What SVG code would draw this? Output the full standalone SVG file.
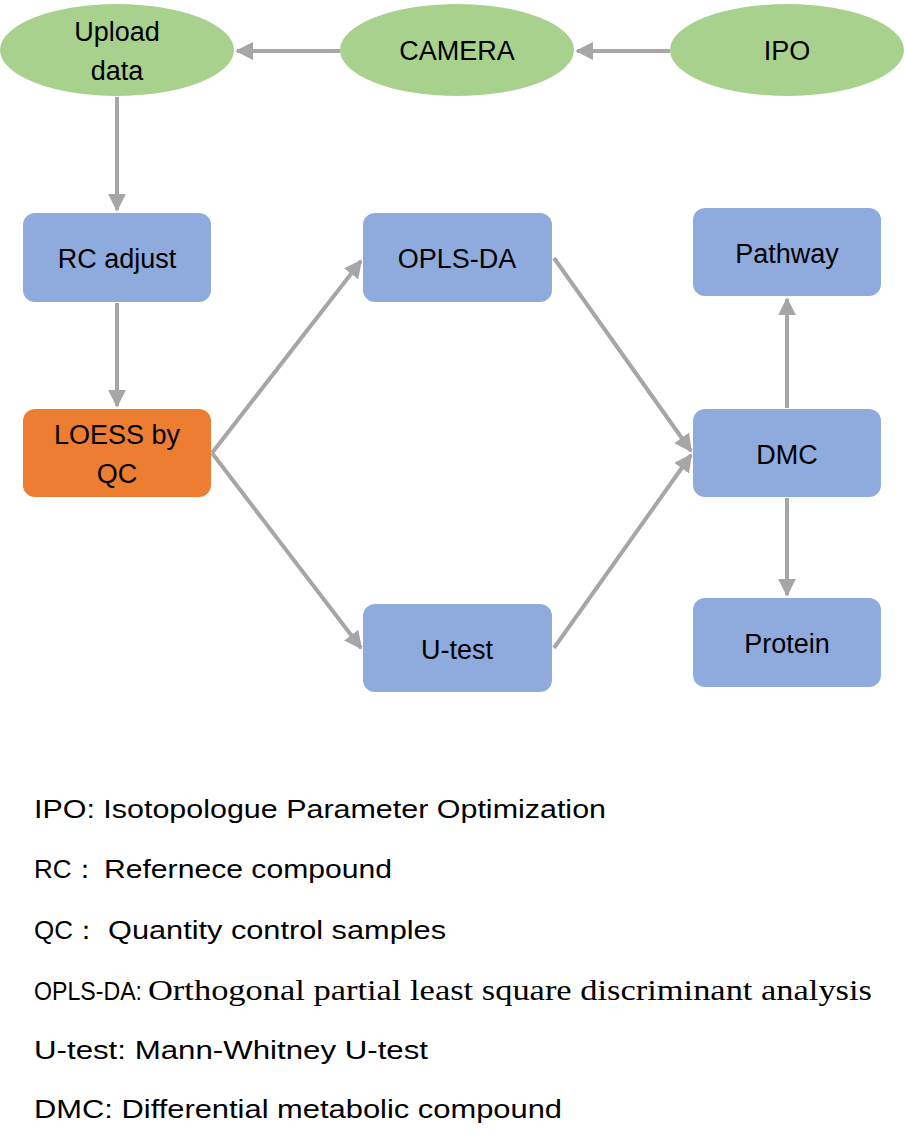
<svg xmlns="http://www.w3.org/2000/svg" width="904" height="1148" viewBox="0 0 904 1148">
<style>
.ell{fill:#A9D18E}
.box{fill:#8FAADC}
.org{fill:#ED7D31}
.lbl{font-family:"Liberation Sans",Arial,sans-serif;font-size:27px;fill:#000;text-anchor:middle;dominant-baseline:central}
.leg{font-family:"Liberation Sans",Arial,sans-serif;font-size:26px;fill:#000}
.ser{font-family:"Liberation Serif","Times New Roman",serif;font-size:30px}
.con{stroke:#A6A6A6;stroke-width:4;fill:none;marker-end:url(#ah)}
</style>
<defs>
<marker id="ah" viewBox="0 0 10 10" refX="9" refY="5" markerWidth="4.5" markerHeight="4.5" orient="auto" markerUnits="strokeWidth">
<path d="M0,0 L10,5 L0,10 z" fill="#A6A6A6"/>
</marker>
</defs>
<rect width="904" height="1148" fill="#fff"/>
<g id="connectors">
<line class="con" x1="670" y1="51" x2="577" y2="51"/>
<line class="con" x1="340" y1="51" x2="237" y2="51"/>
<line class="con" x1="117" y1="97" x2="117" y2="210"/>
<line class="con" x1="117" y1="303" x2="117" y2="406"/>
<line class="con" x1="212" y1="453" x2="361" y2="261"/>
<line class="con" x1="212" y1="453" x2="361" y2="648"/>
<line class="con" x1="554" y1="258" x2="691" y2="451"/>
<line class="con" x1="554" y1="648" x2="691" y2="455"/>
<line class="con" x1="787" y1="408" x2="787" y2="299"/>
<line class="con" x1="787" y1="498" x2="787" y2="595"/>
</g>
<g id="node-upload">
<ellipse class="ell" cx="117" cy="50" rx="117" ry="46"/>
<text class="lbl" x="117" y="32">Upload</text>
<text class="lbl" x="117" y="71">data</text>
</g>
<g id="node-camera">
<ellipse class="ell" cx="457" cy="50" rx="117" ry="46"/>
<text class="lbl" x="457" y="51">CAMERA</text>
</g>
<g id="node-ipo">
<ellipse class="ell" cx="787" cy="50" rx="117" ry="46"/>
<text class="lbl" x="787" y="51">IPO</text>
</g>
<g id="node-rc">
<rect class="box" x="23" y="213" width="188" height="89" rx="12"/>
<text class="lbl" x="117" y="259">RC adjust</text>
</g>
<g id="node-loess">
<rect class="org" x="23" y="409" width="188" height="88" rx="12"/>
<text class="lbl" x="117" y="435">LOESS by</text>
<text class="lbl" x="117" y="474">QC</text>
</g>
<g id="node-opls">
<rect class="box" x="363" y="213" width="189" height="89" rx="12"/>
<text class="lbl" x="457" y="259">OPLS-DA</text>
</g>
<g id="node-utest">
<rect class="box" x="363" y="604" width="189" height="88" rx="12"/>
<text class="lbl" x="457" y="650">U-test</text>
</g>
<g id="node-pathway">
<rect class="box" x="693" y="208" width="188" height="88" rx="12"/>
<text class="lbl" x="787" y="254">Pathway</text>
</g>
<g id="node-dmc">
<rect class="box" x="693" y="409" width="188" height="88" rx="12"/>
<text class="lbl" x="787" y="455">DMC</text>
</g>
<g id="node-protein">
<rect class="box" x="693" y="598" width="188" height="89" rx="12"/>
<text class="lbl" x="787" y="644">Protein</text>
</g>
<g id="legend">
<text class="leg" x="34" y="818" textLength="572" lengthAdjust="spacingAndGlyphs">IPO: Isotopologue Parameter Optimization</text>
<text class="leg" x="34" y="878">RC：</text>
<text class="leg" x="104" y="878" textLength="288" lengthAdjust="spacingAndGlyphs">Refernece compound</text>
<text class="leg" x="34" y="939">QC：</text>
<text class="leg" x="108" y="939" textLength="338" lengthAdjust="spacingAndGlyphs">Quantity control samples</text>
<text class="leg" x="34" y="1000" textLength="108" lengthAdjust="spacingAndGlyphs">OPLS-DA:</text>
<text class="leg ser" x="148" y="1000" textLength="724" lengthAdjust="spacingAndGlyphs">Orthogonal partial least square discriminant analysis</text>
<text class="leg" x="34" y="1059" textLength="394" lengthAdjust="spacingAndGlyphs">U-test: Mann-Whitney U-test</text>
<text class="leg" x="34" y="1118" textLength="528" lengthAdjust="spacingAndGlyphs">DMC: Differential metabolic compound</text>
</g>
</svg>
